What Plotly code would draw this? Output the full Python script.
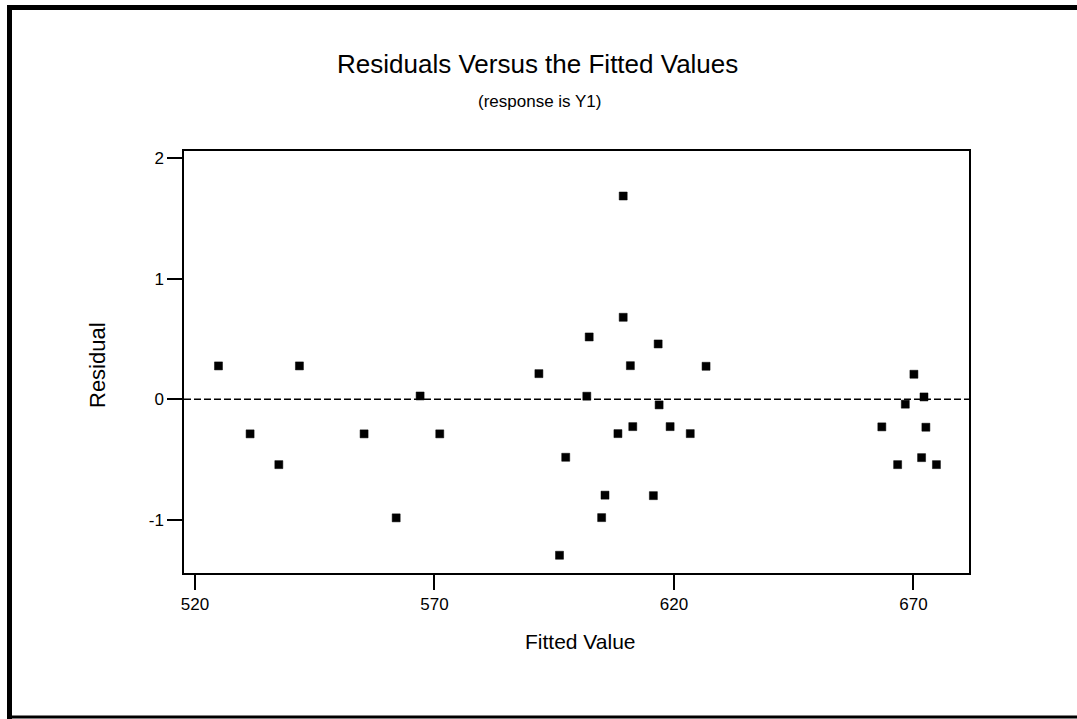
import plotly.graph_objects as go

# Data
fitted = [524.9, 531.5, 537.5, 541.8, 555.3, 562.0, 567.0, 571.1,
          591.8, 596.1, 597.4, 601.8, 602.3, 604.9, 605.6, 608.3, 609.4, 609.4,
          610.9, 611.4, 615.7, 616.7, 616.9, 619.2, 623.4, 626.7,
          663.4, 666.7, 668.3, 670.1, 671.7, 672.2, 672.6, 674.8]
residual = [0.276, -0.287, -0.542, 0.276, -0.287, -0.983, 0.027, -0.287,
            0.212, -1.293, -0.481, 0.025, 0.516, -0.981, -0.795, -0.285, 1.684, 0.679,
            0.278, -0.227, -0.799, 0.458, -0.047, -0.227, -0.285, 0.273,
            -0.229, -0.542, -0.041, 0.207, -0.484, 0.019, -0.232, -0.542]
x_ticks = [520, 570, 620, 670]
y_ticks = [-1, 0, 1, 2]

title = "Residuals Versus the Fitted Values"
subtitle = "(response is Y1)"
x_title = "Fitted Value"
y_title = "Residual"

FONT = "Liberation Sans, Arial, sans-serif"

W, H = 1077, 719
L, R, T, B = 184, 969, 151, 573
pw, ph = R - L, B - T


def px(x):
    return (x - L) / pw


def py(y):
    return (B - y) / ph


fig = go.Figure()
fig.add_trace(go.Scatter(
    x=fitted, y=residual, mode="markers",
    marker=dict(symbol="square", size=8, color="black", line=dict(width=0.5, color="black")),
    showlegend=False, hoverinfo="x+y"))

shapes = [
    # reference line at zero
    dict(type="line", xref="paper", yref="y", x0=0, x1=1, y0=0, y1=0,
         line=dict(color="black", width=1.6, dash="7px,3px")),
    # outer frame (top, left, bottom)
    dict(type="line", xref="paper", yref="paper", x0=px(7), x1=px(1077), y0=py(7.5), y1=py(7.5),
         line=dict(color="black", width=5)),
    dict(type="line", xref="paper", yref="paper", x0=px(9.5), x1=px(9.5), y0=py(5), y1=py(719),
         line=dict(color="black", width=5)),
    dict(type="line", xref="paper", yref="paper", x0=px(7), x1=px(1077), y0=py(717), y1=py(717),
         line=dict(color="black", width=3)),
]

annotations = [
    dict(text=title, x=px(537), y=py(64), xref="paper", yref="paper", showarrow=False,
         xanchor="center", yanchor="middle", font=dict(family=FONT, size=26, color="black")),
    dict(text=subtitle, x=px(539), y=py(101), xref="paper", yref="paper", showarrow=False,
         xanchor="center", yanchor="middle", font=dict(family=FONT, size=17, color="black")),
    dict(text=x_title, x=px(580), y=py(641), xref="paper", yref="paper", showarrow=False,
         xanchor="center", yanchor="middle", font=dict(family=FONT, size=21, color="black")),
    dict(text=y_title, x=px(97), y=py(365), xref="paper", yref="paper", showarrow=False,
         xanchor="center", yanchor="middle", textangle=-90,
         font=dict(family=FONT, size=22, color="black")),
]

fig.update_layout(
    width=W, height=H,
    margin=dict(l=L, r=W - R, t=T, b=H - B, pad=0),
    paper_bgcolor="white", plot_bgcolor="white",
    font=dict(family=FONT, color="black", size=17),
    shapes=shapes, annotations=annotations,
    xaxis=dict(range=[517.7, 681.6], tickvals=x_ticks, ticktext=[str(v) for v in x_ticks],
               ticks="outside", ticklen=15, tickwidth=1.5, tickcolor="black",
               showline=True, linecolor="black", linewidth=1.5, mirror=True,
               showgrid=False, zeroline=False, tickfont=dict(size=17)),
    yaxis=dict(range=[-1.44, 2.057], tickvals=y_ticks, ticktext=[str(v) for v in y_ticks],
               ticks="outside", ticklen=15, tickwidth=1.5, tickcolor="black",
               showline=True, linecolor="black", linewidth=1.5, mirror=True,
               showgrid=False, zeroline=False, tickfont=dict(size=17)),
)

fig.write_html("out.html")
